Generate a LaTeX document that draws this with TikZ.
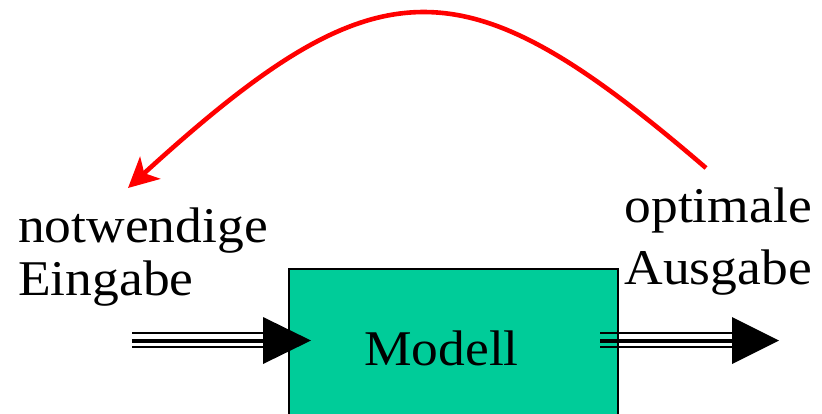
\documentclass[tikz,border=0pt]{standalone}
\usepackage{fontspec}
\setmainfont{Liberation Serif}[FakeStretch=1.07]
\usetikzlibrary{arrows.meta}
\definecolor{boxfill}{RGB}{0,204,153}
\definecolor{curvered}{RGB}{255,0,0}
\tikzset{
  lbl/.style={font=\fontsize{50}{55}\selectfont, inner sep=0pt},
  modelbox/.style={draw=black, line width=1.5pt, fill=boxfill},
  tripleline/.style={line width=2.2pt},
  midline/.style={line width=4pt},
  bigtip/.style={fill=black, draw=none},
  feedback/.style={draw=curvered, line width=4.6pt, -{Stealth[length=30pt,width=30pt,inset=8pt]}},
}
\begin{document}
\begin{tikzpicture}[x=1pt,y=-1pt]
\useasboundingbox (0,0) rectangle (822,413);
\begin{scope}
\clip (0,0) rectangle (822,413);
\node[modelbox, minimum width=329pt, minimum height=150pt, anchor=north west, inner sep=0pt] (box) at (288,268) {};
\end{scope}
\node[lbl, anchor=base] (mtext) at (441.5,365) {Modell};

% labels
\node[lbl, anchor=base west] (in1) at (18,242) {notwendige};
\node[lbl, anchor=base west] (in2) at (18,295) {Eingabe};
\node[lbl, anchor=base east] (out1) at (812,222) {optimale};
\node[lbl, anchor=base east] (out2) at (812,284) {Ausgabe};

% input arrow
\coordinate (ia) at (132,340.5);
\coordinate (ib) at (265,340.5);
\draw[tripleline] ([yshift=-6.2pt]ia) -- ([yshift=-6.2pt]ib);
\draw[midline] (ia) -- (ib);
\draw[tripleline] ([yshift=7.3pt]ia) -- ([yshift=7.3pt]ib);
\coordinate (itip) at (311,340.5);
\fill[bigtip] (263,317) -- (itip) -- (263,364) -- cycle;

% output arrow
\coordinate (oa) at (600,340.5);
\coordinate (ob) at (734,340.5);
\draw[tripleline] ([yshift=-6.2pt]oa) -- ([yshift=-6.2pt]ob);
\draw[midline] (oa) -- (ob);
\draw[tripleline] ([yshift=7.3pt]oa) -- ([yshift=7.3pt]ob);
\coordinate (otip) at (779,340.5);
\fill[bigtip] (732,317) -- (otip) -- (732,364) -- cycle;

% feedback curve
\coordinate (fs) at (706,168);
\coordinate (fe) at (128,188);
\draw[feedback] (fs) .. controls (463,-41) and (379,-41) .. (fe);
\end{tikzpicture}
\end{document}
